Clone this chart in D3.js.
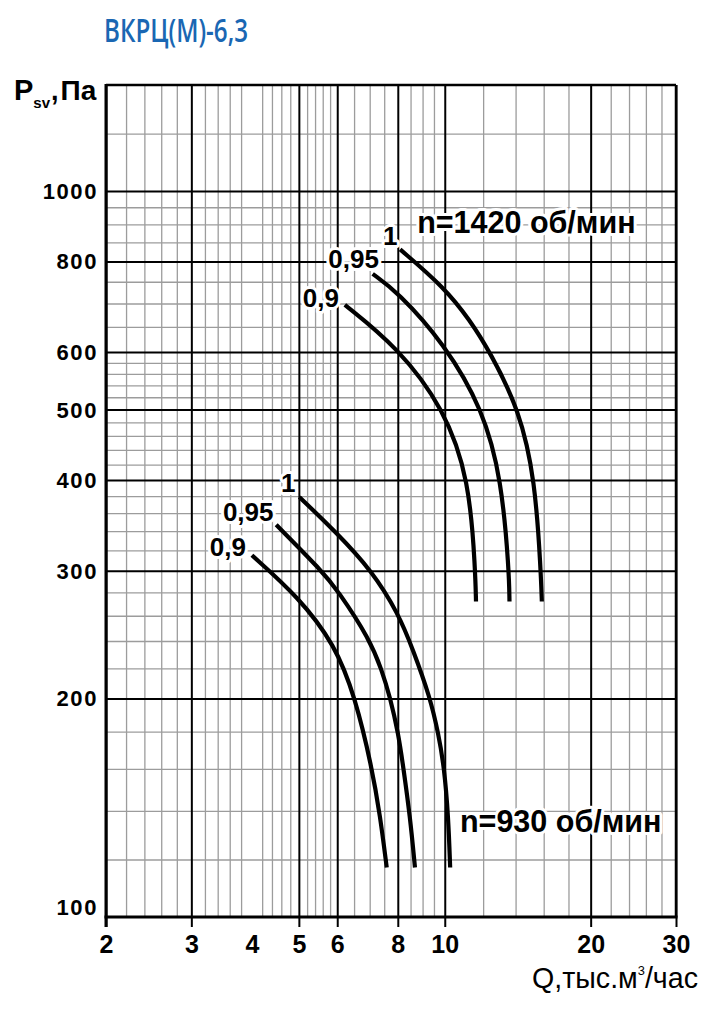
<!DOCTYPE html>
<html>
<head>
<meta charset="utf-8">
<script src="https://cdn.jsdelivr.net/npm/d3@7"></script>
<style>
  body { margin: 0; background: #fff; }
  text { font-family: "Liberation Sans", Arial, sans-serif; }
</style>
</head>
<body>
<svg id="chart" width="728" height="1009"></svg>
<script>
// grid values (Q, thousand m3/h and P, Pa)
const xMinor = [2.2, 2.4, 2.6, 2.8, 3.2, 3.4, 3.6, 3.8, 4.2, 4.4, 4.6, 4.8,
  5.2, 5.4, 5.6, 5.8, 6.5, 7, 7.5, 8.5, 9, 9.5, 12, 14, 16, 18, 22, 24, 26, 28];
const xMajor = [2, 3, 5, 6, 8, 10, 20, 30];
const xTickLabels = [2, 3, 4, 5, 6, 8, 10, 20, 30];
const yMinor = [120, 140, 160, 180, 220, 240, 260, 280, 320, 340, 360, 380,
  420, 440, 460, 480, 520, 540, 560, 580, 650, 700, 750, 850, 900, 950, 1200];
const yMajor = [200, 300, 400, 500, 600, 800, 1000];
const yTickLabels = [100, 200, 300, 400, 500, 600, 800, 1000];

// curves, [Q, P]
const n1420_100 = [[8.09, 831], [9.97, 737], [11.27, 664], [12.4, 600], [14.25, 500], [15.36, 400], [15.78, 300], [15.86, 272]];
const n1420_095 = [[7.10, 769], [7.98, 727], [9.97, 617], [12.0, 500], [13.1, 400], [13.57, 300], [13.6, 272]];
const n1420_090 = [[6.22, 697], [7.98, 610], [9.97, 502], [11.24, 400], [11.56, 300], [11.6, 272]];
const n930_100 = [[5.01, 379], [5.99, 338], [7.07, 300], [8.02, 262], [8.61, 233], [9.32, 201], [9.70, 179], [9.97, 161], [10.17, 137.5], [10.26, 117]];
const n930_095 = [[4.49, 347], [5.57, 300], [6.01, 282], [7.01, 241], [7.41, 219], [7.71, 201], [8.02, 179], [8.21, 161], [8.48, 137.5], [8.68, 117]];
const n930_090 = [[4.0, 315], [4.99, 276], [5.94, 237], [6.53, 201], [7.07, 161], [7.36, 137.5], [7.59, 117]];

const curveNames = ["1", "0,95", "0,9", "1", "0,95", "0,9"];

const svg = d3.select("#chart");

const x = d3.scaleLog().domain([2, 30]).range([106, 676]);
const y = d3.scaleLog().domain([100, 1400]).range([917, 85]);

const x0 = x(2), x1 = x(30), yb = y(100), yt = y(1400);

// title
svg.append("text")
  .attr("x", 104).attr("y", 42)
  .attr("textLength", 144).attr("lengthAdjust", "spacingAndGlyphs")
  .style("font-family", "'Open Sans', sans-serif")
  .style("font-weight", 600)
  .style("font-size", "33px")
  .attr("fill", "#1a67b3")
  .text("ВКРЦ(М)-6,3");

// minor grid
svg.append("g")
  .attr("transform", `translate(0,${yb})`)
  .call(d3.axisBottom(x).tickValues(xMinor).tickSize(-(yb - yt)).tickFormat(""))
  .call(g => g.select(".domain").remove())
  .selectAll("line").attr("stroke", "#9c9c9c").attr("stroke-width", 1.3);

svg.append("g")
  .attr("transform", `translate(${x0},0)`)
  .call(d3.axisLeft(y).tickValues(yMinor).tickSize(-(x1 - x0)).tickFormat(""))
  .call(g => g.select(".domain").remove())
  .selectAll("line").attr("stroke", "#9c9c9c").attr("stroke-width", 1.3);

// major grid, vertical lines run a little below the axis as ticks
svg.append("g")
  .attr("transform", `translate(0,${yb + 10})`)
  .call(d3.axisBottom(x).tickValues(xMajor).tickSize(-(yb + 10 - yt)).tickFormat(""))
  .call(g => g.select(".domain").remove())
  .selectAll("line").attr("stroke", "#000").attr("stroke-width", 2);

svg.append("g")
  .attr("transform", `translate(${x0},0)`)
  .call(d3.axisLeft(y).tickValues(yMajor).tickSize(-(x1 - x0)).tickFormat(""))
  .call(g => g.select(".domain").remove())
  .selectAll("line").attr("stroke", "#000").attr("stroke-width", 2);

// frame
const frame = svg.append("g").attr("stroke", "#000").attr("fill", "none");
frame.append("line").attr("x1", x0).attr("x2", x1).attr("y1", yt).attr("y2", yt).attr("stroke-width", 2.5);
frame.append("line").attr("x1", x1).attr("x2", x1).attr("y1", yt).attr("y2", yb).attr("stroke-width", 2.5);
frame.append("line").attr("x1", x0).attr("x2", x0).attr("y1", yt - 1).attr("y2", yb + 10).attr("stroke-width", 3);
frame.append("line").attr("x1", x0 - 1.5).attr("x2", x1 + 1.5).attr("y1", yb).attr("y2", yb).attr("stroke-width", 3);

// tick labels
const xl = svg.append("g")
  .attr("transform", `translate(0,${yb})`)
  .call(d3.axisBottom(x).tickValues(xTickLabels).tickSize(0).tickPadding(18).tickFormat(d3.format("d")));
xl.select(".domain").remove();
xl.selectAll("text")
  .attr("fill", "#000")
  .style("font-family", "'Liberation Sans', Arial, sans-serif")
  .style("font-weight", "bold").style("font-size", "25px");

const yl = svg.append("g")
  .attr("transform", `translate(${x0},0)`)
  .call(d3.axisLeft(y).tickValues(yTickLabels).tickSize(0).tickPadding(8).tickFormat(d3.format("d")));
yl.select(".domain").remove();
yl.selectAll("text")
  .attr("fill", "#000")
  .style("font-family", "'Liberation Sans', Arial, sans-serif")
  .style("font-weight", "bold").style("font-size", "22px")
  .style("letter-spacing", "1.6px")
  .attr("dy", d => d === 100 ? "-0.1em" : "0.34em");

// axis titles
const yTitle = svg.append("text")
  .attr("x", 14).attr("y", 100)
  .style("font-weight", "bold")
  .attr("fill", "#000");
yTitle.append("tspan").style("font-size", "29px").text("P");
yTitle.append("tspan").attr("dy", 8).style("font-size", "15px").text("sv");
yTitle.append("tspan").attr("dx", 1).attr("dy", -8).style("font-size", "27px").text(",");
yTitle.append("tspan").attr("dx", 2).style("font-size", "28px").text("Па");

const xTitle = svg.append("text")
  .attr("x", 532).attr("y", 988)
  .attr("textLength", 166).attr("lengthAdjust", "spacingAndGlyphs")
  .style("font-size", "29px")
  .attr("fill", "#000");
xTitle.append("tspan").text("Q,тыс.м");
xTitle.append("tspan").attr("dy", -13).style("font-size", "13px").text("3");
xTitle.append("tspan").attr("dy", 13).text("/час");

// curves
const line = d3.line()
  .x(d => x(d[0]))
  .y(d => y(d[1]))
  .curve(d3.curveBasis);

const curves = [n1420_100, n1420_095, n1420_090, n930_100, n930_095, n930_090];

svg.append("g")
  .selectAll("path")
  .data(curves)
  .join("path")
  .attr("d", line)
  .attr("fill", "none")
  .attr("stroke", "#000")
  .attr("stroke-width", 4.2);

// curve labels sit just before each curve's first point
const labelOffsets = [[-10, -4], [-19, -6], [-24, 2], [-11, -5], [-28, -4], [-24, 1]];

function halo(sel) {
  sel.attr("fill", "#000")
    .attr("stroke", "#fff")
    .attr("stroke-width", 6)
    .attr("stroke-linejoin", "round")
    .attr("paint-order", "stroke")
    .style("font-weight", "bold");
}

svg.append("g")
  .selectAll("text")
  .data(curves)
  .join("text")
  .attr("x", (d, i) => x(d[0][0]) + labelOffsets[i][0])
  .attr("y", (d, i) => y(d[0][1]) + labelOffsets[i][1])
  .attr("text-anchor", "middle")
  .style("font-size", "26px")
  .text((d, i) => curveNames[i])
  .call(halo);

// speed labels
const speedLabels = [
  { text: "n=1420 об/мин", q: 8.77, p: 875 },
  { text: "n=930 об/мин", q: 10.75, p: 130.9 }
];

svg.append("g")
  .selectAll("text")
  .data(speedLabels)
  .join("text")
  .attr("x", d => x(d.q))
  .attr("y", d => y(d.p))
  .style("font-size", "30.5px")
  .text(d => d.text)
  .call(halo);
</script>
</body>
</html>
